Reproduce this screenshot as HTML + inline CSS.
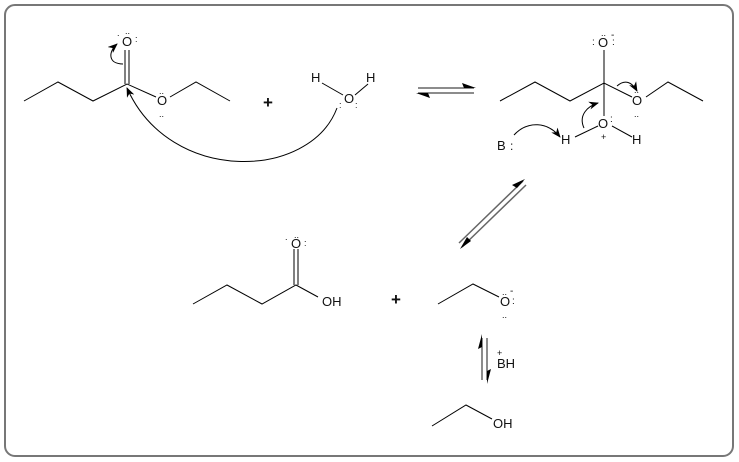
<!DOCTYPE html>
<html><head><meta charset="utf-8"><style>
html,body{margin:0;padding:0;background:#fff;width:739px;height:462px;overflow:hidden}
text{font-family:"Liberation Sans",sans-serif;fill:#111}
</style></head><body>
<svg width="739" height="462" viewBox="0 0 739 462" xmlns="http://www.w3.org/2000/svg">
<defs>
<marker id="ah" markerWidth="10" markerHeight="8" refX="9" refY="4" orient="auto" markerUnits="userSpaceOnUse"><path d="M0,0 L10,4 L0,8 L3,4 Z" fill="#000"/></marker>
</defs>
<rect x="5" y="5" width="728" height="451" rx="10" fill="#fff" stroke="#777" stroke-width="2"/>
<g stroke="#000" stroke-width="1" fill="none">
<polyline points="24,101 58,82 93,101 127,84 156,97"/>
<line x1="125" y1="50" x2="125" y2="84"/><line x1="129" y1="50" x2="129" y2="84"/>
<polyline points="170,97 196,82 230,101"/>
<line x1="322" y1="83" x2="343" y2="95"/><line x1="355" y1="95" x2="368" y2="84"/>
<path d="M123,64 C108,64 108,52 117,44" marker-end="url(#ah)"/>
<path d="M337,108 C310,180 170,185 127,88" marker-end="url(#ah)"/>
<polyline points="500,101 535,82 570,101 604,83 632,97"/>
<line x1="604" y1="50" x2="604" y2="116"/>
<polyline points="646,97 668,82 703,101"/>
<line x1="575" y1="137" x2="598" y2="126"/><line x1="612" y1="126" x2="632" y2="137"/>
<path d="M514,135 C528,120 548,122 560,137" marker-end="url(#ah)"/>
<path d="M584,128 C578,115 588,106 598,103" marker-end="url(#ah)"/>
<path d="M617,86 C625,79 632,82 637,91" marker-end="url(#ah)"/>
<polyline points="193,304 227,285 262,304 296,285 318,297"/>
<line x1="294" y1="249" x2="294" y2="285"/><line x1="298" y1="249" x2="298" y2="285"/>
<polyline points="438,304 473,284 499,297"/>
<polyline points="432,426 466,405 492,419"/>
</g>
<g stroke="#666" stroke-width="1.5">
<line x1="418" y1="88" x2="474" y2="88"/><line x1="418" y1="93" x2="474" y2="93"/>
<line x1="459" y1="243" x2="523" y2="181"/><line x1="462" y1="247" x2="526" y2="185"/>
<line x1="482" y1="338" x2="482" y2="380"/><line x1="487" y1="338" x2="487" y2="380"/>
</g>
<g fill="#000">
<path d="M476,88 L462,83 L464,88 Z"/><path d="M416,93 L430,98 L428,93 Z"/>
<path d="M525,179 L512,185 L517,188 Z"/><path d="M460,249 L467,237 L471,241 Z"/>
<path d="M482,334 L478,349 L482,347 Z"/><path d="M487,384 L491,369 L487,371 Z"/>
</g>
<g font-size="13">
<text x="122" y="46">O</text><text x="117" y="36" font-size="9">.</text><text x="125" y="34" font-size="9">..</text><text x="135" y="42" font-size="9">:</text>
<text x="157" y="105">O</text><text x="159" y="94" font-size="9">..</text><text x="159" y="117" font-size="9">..</text>
<text x="263" y="108" font-size="17" font-weight="bold">+</text>
<text x="311" y="82">H</text><text x="344" y="103">O</text><text x="366" y="82">H</text>
<text x="339" y="108" font-size="9">:</text><text x="355" y="108" font-size="9">:</text>
<text x="598" y="47">O</text><text x="592" y="45" font-size="10">:</text><text x="612" y="45" font-size="10">:</text><text x="601" y="36" font-size="9">..</text><text x="611" y="38" font-size="10">-</text>
<text x="632" y="105">O</text><text x="634" y="93" font-size="9">..</text><text x="634" y="117" font-size="9">..</text>
<text x="598" y="128">O</text><text x="610" y="122" font-size="10">:</text><text x="601" y="140" font-size="9">+</text>
<text x="561" y="144">H</text><text x="632" y="144">H</text>
<text x="497" y="150">B</text><text x="510" y="150" font-size="12">:</text>
<text x="291" y="248">O</text><text x="285" y="240" font-size="9">.</text><text x="294" y="238" font-size="9">..</text><text x="304" y="246" font-size="9">:</text>
<text x="322" y="306">OH</text>
<text x="391" y="305" font-size="17" font-weight="bold">+</text>
<text x="500" y="306">O</text><text x="502" y="295" font-size="9">..</text><text x="510" y="294" font-size="10">-</text><text x="512" y="304" font-size="10">:</text><text x="502" y="318" font-size="9">..</text>
<text x="497" y="368">BH</text><text x="497" y="356" font-size="9">+</text>
<text x="493" y="428">OH</text>
</g>
</svg>
</body></html>
